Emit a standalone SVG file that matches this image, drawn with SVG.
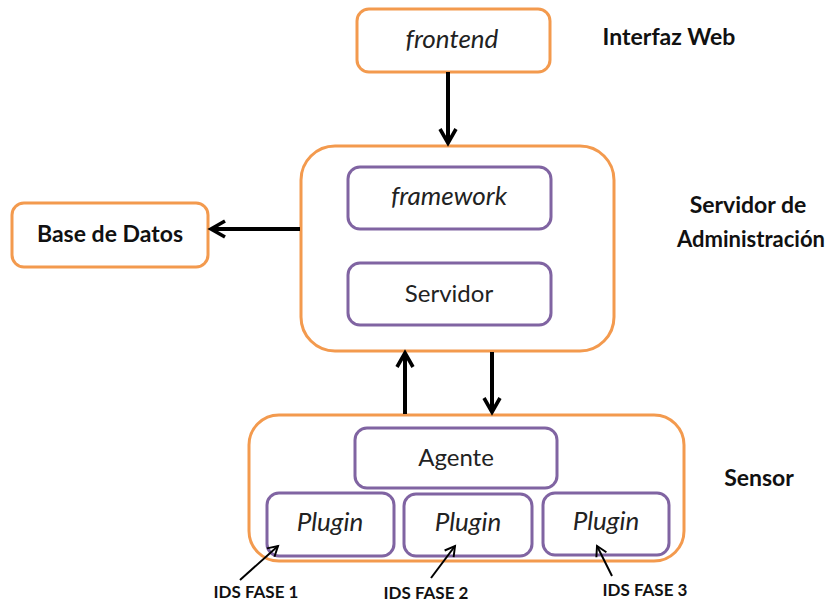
<svg xmlns="http://www.w3.org/2000/svg" width="827" height="602" viewBox="0 0 827 602">
<defs>
<style>
.o{fill:#fff;stroke:#f39a4e;stroke-width:3}
.p{fill:#fff;stroke:#8064a2;stroke-width:3}
.t{font-family:Lato,"Open Sans","Liberation Sans",sans-serif;fill:#222;text-anchor:middle}
.i{font-style:italic;font-size:26px}
.n{font-size:24px}
.b{font-weight:bold;font-size:23px;fill:#111}
.s{font-weight:bold;font-size:17px;fill:#111}
.c{stroke:#000;stroke-width:4;fill:none}
.c2{stroke:#000;stroke-width:2;fill:none}
</style>
<marker id="ah" viewBox="0 0 10 10" refX="8" refY="5" markerWidth="5" markerHeight="5" orient="auto" markerUnits="strokeWidth">
<path d="M1,1 L8,5 L1,9" fill="none" stroke="#000" stroke-width="1.8"/>
</marker>
<marker id="ah2" viewBox="0 0 10 10" refX="8" refY="5" markerWidth="7" markerHeight="7" orient="auto" markerUnits="strokeWidth">
<path d="M1,1 L8,5 L1,9" fill="none" stroke="#000" stroke-width="1.4"/>
</marker>
</defs>
<rect width="827" height="602" fill="#fff"/>
<g id="frontend">
<rect class="o" x="357" y="9" width="193" height="63" rx="12"/>
<text class="t i" x="452" y="48">frontend</text>
</g>
<text id="lbl-web" class="t b" x="669" y="45">Interfaz Web</text>
<g id="servidor-admin">
<rect class="o" x="301" y="146" width="313" height="205" rx="34"/>
</g>
<g id="framework">
<rect class="p" x="348" y="167" width="203" height="62" rx="12"/>
<text class="t i" x="449" y="205">framework</text>
</g>
<g id="servidor">
<rect class="p" x="348" y="263" width="203" height="62" rx="12"/>
<text class="t n" x="449" y="302">Servidor</text>
</g>
<g id="base-datos">
<rect class="o" x="12" y="203" width="196" height="64" rx="12"/>
<text class="t b" x="110" y="242">Base de Datos</text>
</g>
<text id="lbl-admin" class="t b" x="748" y="213">Servidor de<tspan x="751" y="247" style="font-size:22px">Administración</tspan></text>
<g id="sensor">
<rect class="o" x="249" y="415" width="435" height="146" rx="30"/>
</g>
<text id="lbl-sensor" class="t b" x="759" y="486">Sensor</text>
<g id="agente">
<rect class="p" x="355" y="428" width="202" height="60" rx="12"/>
<text class="t n" x="456" y="466">Agente</text>
</g>
<g id="plugin1">
<rect class="p" x="267" y="493" width="127" height="63" rx="12"/>
<text class="t i" x="330" y="531">Plugin</text>
</g>
<g id="plugin2">
<rect class="p" x="404" y="494" width="128" height="62" rx="12"/>
<text class="t i" x="468" y="531">Plugin</text>
</g>
<g id="plugin3">
<rect class="p" x="543" y="493" width="126" height="62" rx="12"/>
<text class="t i" x="606" y="530">Plugin</text>
</g>
<text id="ids1" class="t s" x="256" y="598">IDS FASE 1</text>
<text id="ids2" class="t s" x="426" y="599">IDS FASE 2</text>
<text id="ids3" class="t s" x="645" y="596">IDS FASE 3</text>
<g id="connectors">
<line class="c" x1="448" y1="72" x2="448" y2="143" marker-end="url(#ah)"/>
<line class="c" x1="300" y1="229" x2="211" y2="229" marker-end="url(#ah)"/>
<line class="c" x1="405" y1="414" x2="405" y2="353" marker-end="url(#ah)"/>
<line class="c" x1="492" y1="352" x2="492" y2="412" marker-end="url(#ah)"/>
<line class="c2" x1="240" y1="580" x2="278" y2="546" marker-end="url(#ah2)"/>
<line class="c2" x1="431" y1="578" x2="455" y2="546" marker-end="url(#ah2)"/>
<line class="c2" x1="612" y1="576" x2="597" y2="546" marker-end="url(#ah2)"/>
</g>
</svg>
